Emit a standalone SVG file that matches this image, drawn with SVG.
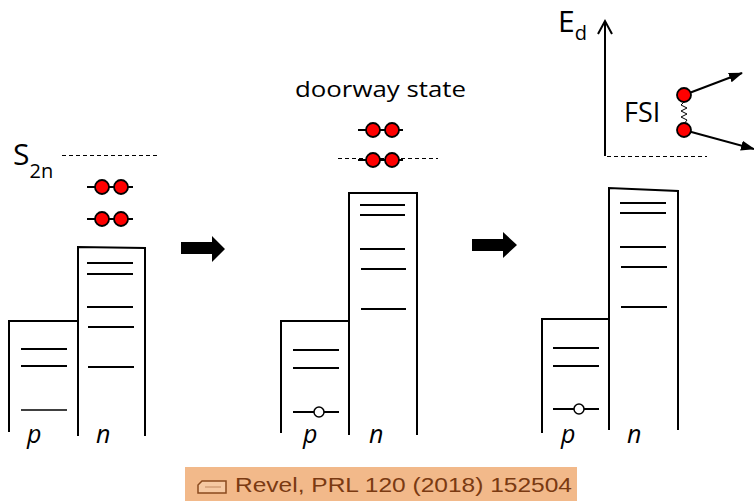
<svg xmlns="http://www.w3.org/2000/svg" width="754" height="503" viewBox="0 0 754 503">
<defs>
<style>
.box{fill:none;stroke:#000;stroke-width:2}
.lv{stroke:#000;stroke-width:2}
.thin{stroke:#000;stroke-width:1.5}
.dash{stroke:#000;stroke-width:1;stroke-dasharray:4 3}
.dot{fill:#ff0000;stroke:#000;stroke-width:1.8}
.hole{fill:#fff;stroke:#000;stroke-width:1.5}
.lab{font-family:"Open Sans","Noto Sans",sans-serif;fill:#000}
.it{font-family:"Open Sans","Noto Sans",sans-serif;font-style:italic;font-size:25px;fill:#000}
.blk{fill:#000}
</style>
<marker id="ah" viewBox="0 0 14 10" refX="13" refY="5" markerWidth="14" markerHeight="10" markerUnits="userSpaceOnUse" orient="auto">
<path d="M0,0 L14,5 L0,10 Z" fill="#000"/>
</marker>
</defs>
<rect width="754" height="503" fill="#fff"/>

<g id="panel1">
<path class="box" d="M9,432 V321 H78"/>
<path class="box" d="M78,436 V247 L145,248 V436"/>
<line class="lv" x1="87" y1="263" x2="133" y2="263"/>
<line class="lv" x1="87" y1="274" x2="133" y2="274"/>
<line class="lv" x1="87" y1="307" x2="133" y2="307"/>
<line class="lv" x1="88" y1="327" x2="134" y2="327"/>
<line class="lv" x1="88" y1="367" x2="134" y2="367"/>
<line class="lv" x1="21" y1="349" x2="67" y2="349"/>
<line class="lv" x1="21" y1="366" x2="67" y2="366"/>
<line class="thin" x1="21" y1="410" x2="67" y2="410"/>
<line class="dash" x1="62" y1="155.5" x2="160" y2="155.5"/>
<line class="lv" x1="87" y1="187" x2="133" y2="187"/>
<circle class="dot" cx="102" cy="187" r="7"/>
<circle class="dot" cx="121" cy="187" r="7"/>
<line class="lv" x1="87" y1="219" x2="133" y2="219"/>
<circle class="dot" cx="102" cy="219" r="7"/>
<circle class="dot" cx="121" cy="219" r="7"/>
<text class="lab" x="13" y="165" font-size="30">S<tspan font-size="20" dy="13">2n</tspan></text>
<text class="it" x="27" y="443">p</text>
<text class="it" x="96" y="443">n</text>
</g>

<g id="panel2">
<path class="box" d="M281,433 V321 H349"/>
<path class="box" d="M349,435 V193 H417 V435"/>
<line class="lv" x1="360" y1="205" x2="405" y2="205"/>
<line class="lv" x1="360" y1="215" x2="405" y2="215"/>
<line class="lv" x1="360" y1="249" x2="405" y2="249"/>
<line class="lv" x1="361" y1="269" x2="406" y2="269"/>
<line class="lv" x1="361" y1="309" x2="406" y2="309"/>
<line class="lv" x1="293" y1="350" x2="339" y2="350"/>
<line class="lv" x1="293" y1="368" x2="339" y2="368"/>
<line class="lv" x1="293" y1="412" x2="339" y2="412"/>
<circle class="hole" cx="319" cy="412" r="5"/>
<line class="dash" x1="338" y1="158.5" x2="438" y2="158.5"/>
<line class="lv" x1="358" y1="130" x2="403" y2="130"/>
<circle class="dot" cx="373" cy="130" r="7"/>
<circle class="dot" cx="392" cy="130" r="7"/>
<line class="lv" x1="358" y1="160" x2="403" y2="160"/>
<circle class="dot" cx="373" cy="160" r="7"/>
<circle class="dot" cx="392" cy="160" r="7"/>
<text class="lab" x="295" y="97" font-size="21" textLength="171" lengthAdjust="spacingAndGlyphs">doorway state</text>
<text class="it" x="303" y="443">p</text>
<text class="it" x="369" y="443">n</text>
</g>

<g id="panel3">
<path class="box" d="M542,433 V319 H609"/>
<path class="box" d="M609,430 V188 L678,191 V430"/>
<line class="lv" x1="620" y1="203" x2="666" y2="203"/>
<line class="lv" x1="620" y1="213" x2="666" y2="213"/>
<line class="lv" x1="620" y1="247" x2="666" y2="247"/>
<line class="lv" x1="621" y1="267" x2="667" y2="267"/>
<line class="lv" x1="621" y1="307" x2="667" y2="307"/>
<line class="lv" x1="553" y1="348" x2="599" y2="348"/>
<line class="lv" x1="553" y1="366" x2="599" y2="366"/>
<line class="lv" x1="553" y1="409" x2="599" y2="409"/>
<circle class="hole" cx="579" cy="409" r="5"/>
<line class="lv" x1="605" y1="156" x2="605" y2="22"/>
<polyline points="598,34 605,21 612,34" fill="none" stroke="#000" stroke-width="2"/>
<line class="dash" x1="607" y1="156.5" x2="707" y2="156.5"/>
<text class="lab" x="558" y="32" font-size="30">E<tspan font-size="20" dy="8">d</tspan></text>
<text class="lab" x="624" y="122" font-size="27">FSI</text>
<polyline points="684,102 681,105 687,108 681,111 687,114 681,117 687,120 684,124" fill="none" stroke="#000" stroke-width="1"/>
<text class="it" x="561" y="443">p</text>
<text class="it" x="627" y="443">n</text>
</g>

<g id="connectors">
<polygon class="blk" points="181,242 212,242 212,236 225,249 212,262 212,254 181,254"/>
<polygon class="blk" points="472,239 503,239 503,232 517,245 503,258 503,251 472,251"/>
<line x1="684" y1="95" x2="742" y2="73" stroke="#000" stroke-width="2" marker-end="url(#ah)"/>
<line x1="684" y1="130" x2="754" y2="149" stroke="#000" stroke-width="2" marker-end="url(#ah)"/>
</g>

<g id="fsi-particles">
<circle class="dot" cx="684" cy="95" r="7"/>
<circle class="dot" cx="684" cy="130" r="7"/>
</g>

<g id="citation">
<rect x="185" y="467" width="392" height="34" fill="#f2b98a"/>
<path d="M202,481 H226 V493 H198 V485 Z" fill="#f6c9a2" stroke="#8a4a1e" stroke-width="1.5"/>
<line x1="205" y1="487" x2="221" y2="487" stroke="#c08860" stroke-width="1"/>
<text x="235" y="492" font-family="Liberation Sans, Arial, sans-serif" font-size="20" fill="#7a3a12" textLength="337" lengthAdjust="spacingAndGlyphs">Revel, PRL 120 (2018) 152504</text>
</g>
</svg>
